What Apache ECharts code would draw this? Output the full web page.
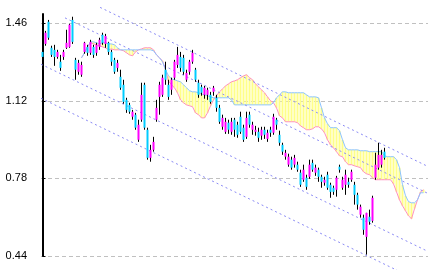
<!DOCTYPE html>
<html><head><meta charset="utf-8">
<script src="https://cdn.jsdelivr.net/npm/echarts@6/dist/echarts.min.js"></script>
<style>html,body{margin:0;padding:0;background:#fff}#c{width:433px;height:270px}</style>
</head><body><div id="c"></div><script>
// y-axis tick labels
const yTicks = [0.44, 0.78, 1.12, 1.46];
// candle data (index 0..114)
const open = [1.334,1.369,1.466,1.352,1.343,1.312,1.291,1.312,1.352,1.356,
1.474,1.299,1.247,1.234,1.334,1.356,1.330,1.356,1.330,1.356,
1.409,1.369,1.374,1.334,1.299,1.264,1.225,1.190,1.124,1.102,
1.050,1.059,0.949,1.037,1.190,0.993,0.870,0.905,1.037,1.137,
1.146,1.256,1.190,1.168,1.221,1.277,1.312,1.308,1.212,1.247,
1.291,1.256,1.199,1.181,1.146,1.146,1.146,1.159,1.133,1.089,
1.006,0.984,1.024,0.984,1.037,1.015,1.050,1.002,0.962,1.059,
0.993,0.984,0.984,0.967,0.993,0.953,0.993,0.980,1.037,0.971,
0.927,0.875,0.840,0.862,0.840,0.840,0.805,0.774,0.783,0.787,
0.848,0.805,0.818,0.787,0.761,0.796,0.752,0.739,0.730,0.831,
0.739,0.752,0.765,0.774,0.752,0.708,0.621,0.608,0.524,0.612,
0.594,0.783,0.827,0.840,0.897];
const close = [1.312,1.418,1.396,1.321,1.312,1.334,1.264,1.334,1.374,1.453,
1.378,1.256,1.286,1.277,1.374,1.330,1.378,1.321,1.365,1.387,
1.374,1.404,1.334,1.291,1.247,1.286,1.177,1.115,1.080,1.072,
1.072,1.002,1.015,1.146,1.002,0.870,0.905,0.940,1.089,1.190,
1.221,1.212,1.137,1.212,1.291,1.321,1.264,1.247,1.242,1.291,
1.330,1.212,1.146,1.155,1.177,1.168,1.115,1.177,1.089,1.028,
1.045,1.028,0.993,1.028,0.993,0.971,0.984,0.949,1.045,1.015,
1.015,0.993,0.958,0.993,0.971,0.980,0.980,1.050,1.015,0.936,
0.897,0.892,0.875,0.827,0.870,0.818,0.752,0.818,0.743,0.840,
0.818,0.827,0.787,0.765,0.774,0.739,0.721,0.721,0.783,0.818,
0.774,0.796,0.752,0.809,0.708,0.665,0.656,0.555,0.629,0.590,
0.695,0.840,0.883,0.883,0.870];
const high = [1.343,1.426,1.474,1.361,1.365,1.343,1.321,1.343,1.431,1.457,
1.488,1.308,1.299,1.291,1.378,1.365,1.387,1.365,1.374,1.396,
1.418,1.413,1.378,1.343,1.308,1.299,1.256,1.212,1.133,1.111,
1.080,1.067,1.037,1.199,1.199,1.002,0.927,0.962,1.124,1.203,
1.234,1.291,1.212,1.221,1.299,1.356,1.334,1.321,1.256,1.299,
1.343,1.264,1.212,1.190,1.185,1.177,1.159,1.185,1.146,1.102,
1.059,1.045,1.037,1.045,1.045,1.028,1.072,1.015,1.072,1.072,
1.028,1.010,1.002,1.006,1.006,0.993,1.006,1.063,1.045,0.989,
0.936,0.905,0.888,0.875,0.883,0.853,0.818,0.840,0.796,0.862,
0.862,0.840,0.827,0.796,0.787,0.809,0.761,0.748,0.791,0.840,
0.787,0.818,0.783,0.818,0.765,0.717,0.665,0.621,0.629,0.643,
0.704,0.892,0.936,0.905,0.914];
const low = [1.304,1.361,1.387,1.312,1.273,1.304,1.251,1.299,1.347,1.352,
1.369,1.212,1.234,1.225,1.326,1.317,1.321,1.308,1.317,1.343,
1.365,1.352,1.321,1.273,1.238,1.247,1.168,1.107,1.067,1.063,
1.037,0.993,0.940,1.028,0.993,0.862,0.853,0.897,1.028,1.059,
1.137,1.190,1.124,1.146,1.212,1.264,1.247,1.234,1.203,1.234,
1.282,1.203,1.133,1.142,1.129,1.124,1.107,1.142,1.072,1.019,
0.993,0.975,0.975,0.971,0.962,0.958,0.975,0.940,0.953,1.002,
0.971,0.967,0.940,0.949,0.953,0.940,0.962,0.971,0.993,0.923,
0.883,0.862,0.831,0.818,0.827,0.809,0.743,0.765,0.730,0.778,
0.809,0.791,0.765,0.739,0.748,0.730,0.695,0.708,0.700,0.805,
0.730,0.708,0.739,0.765,0.665,0.643,0.608,0.533,0.446,0.577,
0.586,0.774,0.818,0.827,0.862];
// Ichimoku-like cloud lines, starting at index cloudStart
const cloudStart = 13;
const spanBlue = [1.308,1.330,1.356,1.378,1.378,1.374,1.369,1.374,1.374,1.369,
1.369,1.365,1.352,1.343,1.343,1.343,1.343,1.343,1.343,1.343,
1.343,1.343,1.343,1.343,1.339,1.321,1.308,1.291,1.256,1.229,
1.216,1.212,1.207,1.203,1.190,1.177,1.164,1.159,1.159,1.155,
1.150,1.146,1.142,1.137,1.133,1.133,1.133,1.133,1.133,1.133,
1.124,1.102,1.102,1.102,1.102,1.102,1.102,1.102,1.102,1.102,
1.102,1.102,1.102,1.102,1.111,1.133,1.146,1.159,1.159,1.155,
1.155,1.155,1.155,1.155,1.155,1.146,1.137,1.137,1.137,1.133,
1.089,1.045,1.019,1.002,1.002,1.002,0.989,0.949,0.914,0.905,
0.905,0.905,0.905,0.901,0.901,0.901,0.897,0.897,0.897,0.897,
0.897,0.879,0.875,0.875,0.875,0.862,0.827,0.752,0.704,0.678,
0.673,0.673,0.686,0.717,0.717];
const spanPink = [1.308,1.330,1.356,1.374,1.369,1.365,1.361,1.356,1.352,1.343,
1.347,1.343,1.343,1.343,1.339,1.330,1.321,1.317,1.334,1.343,
1.347,1.352,1.352,1.352,1.343,1.321,1.308,1.295,1.256,1.207,
1.190,1.177,1.155,1.124,1.111,1.102,1.098,1.094,1.067,1.059,
1.045,1.045,1.067,1.098,1.124,1.142,1.159,1.172,1.185,1.194,
1.203,1.207,1.212,1.221,1.229,1.234,1.221,1.212,1.194,1.181,
1.168,1.155,1.137,1.120,1.111,1.089,1.054,1.045,1.028,1.028,
1.028,1.028,1.024,1.010,1.002,0.993,0.993,0.997,1.006,1.006,
0.997,0.980,0.949,0.927,0.914,0.897,0.879,0.875,0.853,0.840,
0.840,0.835,0.831,0.827,0.809,0.800,0.796,0.783,0.774,0.774,
0.774,0.774,0.774,0.774,0.756,0.721,0.686,0.660,0.638,0.616,
0.603,0.647,0.686,0.721,0.730];
// dotted trend channel lines: [startIndex, startValue, endIndex, endValue]
const channelLines = [
  [19.2, 1.529, 128.5, 0.832],
  [7.5, 1.483, 128.5, 0.714],
  [-0.5, 1.280, 128.5, 0.460],
  [-0.5, 1.131, 119.2, 0.371]
];
const nCats = 129;

const cats = [];
for (let i = 0; i < nCats; i++) cats.push(String(i));

const wickData = open.map((o, i) => [o, close[i], low[i], high[i]]);
const bodyData = open.map((o, i) => [o, close[i], Math.min(o, close[i]), Math.max(o, close[i])]);
const cloudData = spanBlue.map((b, k) => [cloudStart + k, b, spanPink[k], Math.min(b, spanPink[k]), Math.max(b, spanPink[k])]);
const blueLine = spanBlue.map((b, k) => [cloudStart + k, b]);
const pinkLine = spanPink.map((p, k) => [cloudStart + k, p]);

const series = [];
series.push({
  type: 'candlestick', xAxisIndex: 0, data: cloudData, encode: {x: 0, y: [1, 2, 3, 4]},
  barWidth: 2,
  itemStyle: {color: '#ffff88', color0: '#ffff88', borderColor: '#ffff88', borderColor0: '#ffff88', borderWidth: 0},
  silent: true, z: 1
});
series.push({type: 'line', xAxisIndex: 0, data: pinkLine, symbol: 'none', lineStyle: {color: '#ff8fbf', width: 1}, silent: true, z: 2});
series.push({type: 'line', xAxisIndex: 0, data: blueLine, symbol: 'none', lineStyle: {color: '#8cc4ff', width: 1}, silent: true, z: 2});
channelLines.forEach(l => {
  series.push({
    type: 'line', xAxisIndex: 1, data: [[l[0], l[1]], [l[2], l[3]]], symbol: 'none', clip: false,
    lineStyle: {color: '#8a8af5', width: 1, type: [2, 3]}, silent: true, z: 3
  });
});
series.push({
  type: 'candlestick', xAxisIndex: 0, data: wickData, barWidth: 1,
  itemStyle: {color: '#000', color0: '#000', borderColor: '#000', borderColor0: '#000', borderWidth: 1},
  silent: true, z: 4
});
series.push({
  type: 'candlestick', xAxisIndex: 0, data: bodyData, barWidth: 2.5,
  itemStyle: {color: '#ff00ff', color0: '#00ccff', borderColor: '#ff00ff', borderColor0: '#00ccff', borderWidth: 0},
  silent: true, z: 5
});

const chart = echarts.init(document.getElementById('c'), null, {renderer: 'canvas'});
chart.setOption({
  animation: false,
  backgroundColor: '#fff',
  grid: {left: 41, right: 5, top: 14, bottom: 14, containLabel: false},
  xAxis: [
    {type: 'category', data: cats, boundaryGap: true, show: false},
    {type: 'value', min: -0.5, max: nCats - 0.5, show: false}
  ],
  yAxis: {
    type: 'value', min: 0.44, max: 1.50,
    axisLine: {show: true, lineStyle: {color: '#000', width: 2}},
    axisTick: {show: true, inside: true, length: 3, customValues: yTicks, lineStyle: {color: '#000'}},
    axisLabel: {customValues: yTicks, formatter: v => v.toFixed(2), color: '#000', fontSize: 11, fontFamily: 'Liberation Sans', margin: 14},
    splitLine: {show: true, lineStyle: {color: '#c0c0c0', type: [4, 3], width: 1}}
  },
  series: series
});
</script></body></html>
